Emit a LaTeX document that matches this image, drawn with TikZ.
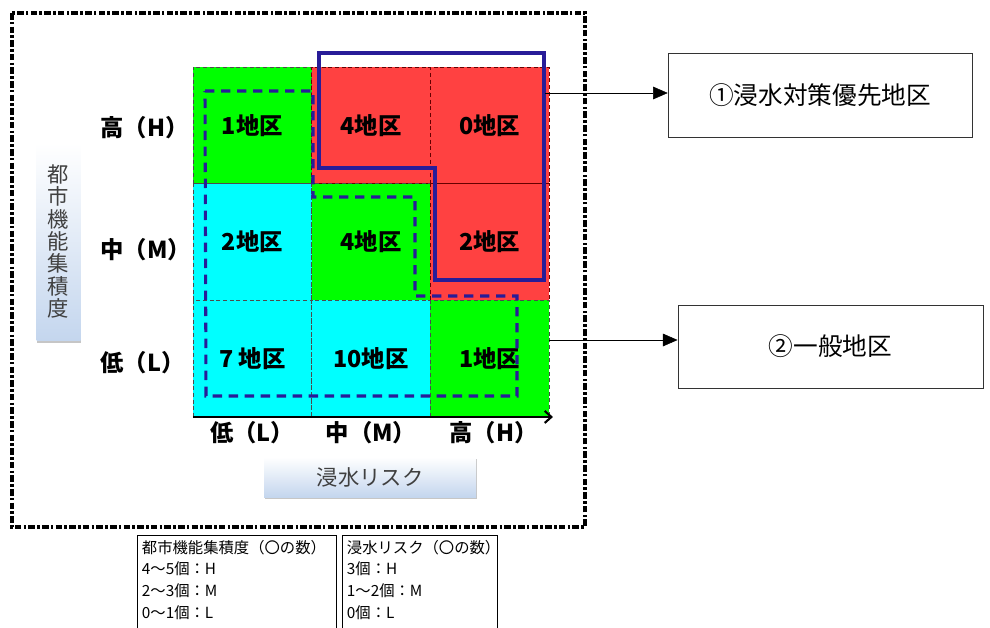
\documentclass[tikz,border=0pt]{standalone}
\usepackage{fontspec}
\setmainfont{Noto Sans CJK JP}
\usepackage{tikz}
\usetikzlibrary{shapes, arrows.meta, positioning, shadows}
\definecolor{riskred}{RGB}{255,65,65}
\definecolor{zonegreen}{RGB}{0,255,0}
\definecolor{zonecyan}{RGB}{0,255,255}
\definecolor{zonenavy}{RGB}{40,28,152}
\definecolor{titleblue}{RGB}{196,214,238}
\newcommand{\cellfont}{\fontsize{17.5}{20}\selectfont\bfseries}
\newcommand{\levelfont}{\fontsize{17.5}{20}\selectfont\bfseries}
\newcommand{\keyfont}{\fontsize{11.5}{16.3}\selectfont}
\tikzstyle{zonecell} = [minimum width=89pt, minimum height=87.5pt, inner sep=0pt, outer sep=0pt, draw=black!70, densely dashed, thin, font=\cellfont]
\tikzstyle{cellgreen} = [zonecell, fill=zonegreen]
\tikzstyle{cellcyan} = [zonecell, fill=zonecyan]
\tikzstyle{cellred} = [zonecell, fill=riskred, draw=red!40!black]
\tikzstyle{levellabel} = [font=\levelfont, inner sep=1pt]
\tikzstyle{axistitle} = [top color=white, bottom color=titleblue, draw=none, text=black!75, font=\fontsize{16}{16.8}\selectfont, drop shadow={opacity=0.45, shadow xshift=0.6pt, shadow yshift=-1.8pt}]
\tikzstyle{resultbox} = [draw=black!80, thin, font=\fontsize{18.5}{22}\selectfont]
\tikzstyle{legendbox} = [draw=black, thin, inner sep=3.5pt, font=\keyfont, anchor=north west]
\tikzstyle{leaderarrow} = [thin, -{Triangle[length=11pt, width=9.5pt]}]

\begin{document}
\begin{tikzpicture}[x=0.75pt, y=-0.75pt]
	\useasboundingbox (0,0) rectangle (990,628);
	\draw[line width=2.6pt, dash pattern=on 5pt off 1.6pt on 2pt off 1.6pt] (12,13) rectangle (585,527);
	% matrix
	\node[cellgreen] (hl) at (252.3,125.3) {1地区};
	\node[cellred, right=0pt of hl] (hm) {4地区};
	\node[cellred, right=0pt of hm] (hh) {0地区};
	\node[cellcyan, below=0pt of hl] (ml) {2地区};
	\node[cellgreen, right=0pt of ml] (mm) {4地区};
	\node[cellred, right=0pt of mm] (mh) {2地区};
	\node[cellcyan, below=0pt of ml] (ll) {7 地区};
	\node[cellcyan, right=0pt of ll] (lm) {10地区};
	\node[cellgreen, right=0pt of lm] (lh) {1地区};
	\draw[line width=1.6pt, -{Straight Barb[length=5pt, width=9pt]}] (ll.south west) -- ([xshift=3pt]lh.south east);
	% zones
	\draw[zonenavy, line width=2.3pt, dash pattern=on 7pt off 5pt] (205,91) -- (313,91) -- (313,197) -- (415,197) -- (415,296) -- (517,296) -- (517,396) -- (206,396) -- cycle;
	\draw[zonenavy, line width=2.5pt] (319,53) -- (544,53) -- (544,280) -- (435,280) -- (435,168) -- (319,168) -- cycle;
	% axis labels
	\node[levellabel, anchor=west] (rowh) at (99,128) {高（H）};
	\node[levellabel, anchor=west] (rowm) at (99,250) {中（M）};
	\node[levellabel, anchor=west] (rowl) at (99,363) {低（L）};
	\node[levellabel, below=2pt of ll] (coll) {低（L）};
	\node[levellabel, below=2pt of lm] (colm) {中（M）};
	\node[levellabel, below=2pt of lh, xshift=3pt] (colh) {高（H）};
	\node[axistitle, minimum width=33pt, minimum height=148pt, inner sep=0pt, align=center] (density) at (58.5,241.5) {都\\市\\機\\能\\集\\積\\度};
	\node[axistitle, minimum width=159pt, minimum height=30pt] (risk) at (370,477) {浸水リスク};
	% results
	\node[resultbox, minimum width=228pt, minimum height=63pt] (priority) at (820,95) {①浸水対策優先地区};
	\node[resultbox, minimum width=229pt, minimum height=62pt] (general) at (830.5,346.5) {②一般地区};
	\coordinate (prioritystart) at (545,93);
	\coordinate (generalstart) at (549,340);
	\draw[leaderarrow] (prioritystart) -- (prioritystart -| priority.west);
	\draw[leaderarrow] (generalstart) -- (generalstart -| general.west);
	% keys
	\node[legendbox] (densitykey) at (137,535) {\parbox[t][75pt][t]{142pt}{都市機能集積度（〇の数）\\4～5個：H\\2～3個：M\\0～1個：L}};
	\node[legendbox] (riskkey) at (342,535) {\parbox[t][75pt][t]{109pt}{浸水リスク（〇の数）\\3個：H\\1～2個：M\\0個：L}};
\end{tikzpicture}
\end{document}
